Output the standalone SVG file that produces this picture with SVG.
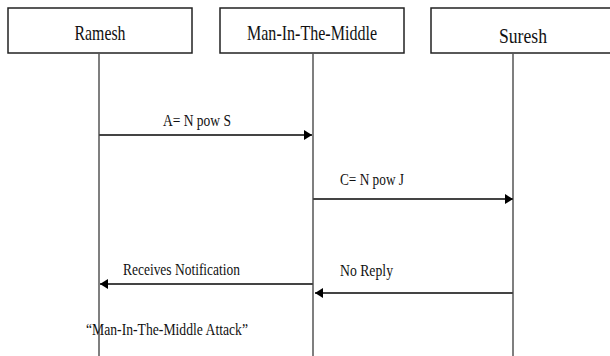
<svg xmlns="http://www.w3.org/2000/svg" width="610" height="356" viewBox="0 0 610 356">
<defs>
<style>
.box{fill:#fff;stroke:#222;stroke-width:1.5}
.txt{fill:#111}
.life{stroke:#555;stroke-width:1.5;fill:none}
.msg{stroke:#444;stroke-width:2;fill:none;marker-end:url(#ah)}
</style>
<marker id="ah" markerWidth="10" markerHeight="12" refX="9" refY="6" orient="auto" markerUnits="userSpaceOnUse">
<path d="M1,1 L9,6 L1,11 Z" fill="#000"/>
</marker>
</defs>
<rect width="610" height="356" fill="#fff"/>
<g font-family="'Liberation Serif', 'Times New Roman', serif">
<g id="ramesh">
<rect class="box" x="8" y="8" width="184" height="45"/>
<text class="txt" x="100" y="40" font-size="21" text-anchor="middle" textLength="51" lengthAdjust="spacingAndGlyphs">Ramesh</text>
</g>
<g id="mitm">
<rect class="box" x="220" y="8" width="184" height="45"/>
<text class="txt" x="312" y="40" font-size="21" text-anchor="middle" textLength="130" lengthAdjust="spacingAndGlyphs">Man-In-The-Middle</text>
</g>
<g id="suresh">
<rect class="box" x="431" y="8" width="184" height="45"/>
<text class="txt" x="523" y="43" font-size="21" text-anchor="middle" textLength="48" lengthAdjust="spacingAndGlyphs">Suresh</text>
</g>
<g id="connectors">
<line class="life" x1="99" y1="53" x2="99" y2="356"/>
<line class="life" x1="313" y1="53" x2="313" y2="356"/>
<line class="life" x1="513" y1="53" x2="513" y2="356"/>
<line class="msg" x1="99" y1="135" x2="312" y2="135"/>
<line class="msg" x1="313" y1="199" x2="513" y2="199"/>
<line class="msg" x1="313" y1="284" x2="100" y2="284"/>
<line class="msg" x1="513" y1="293" x2="315" y2="293"/>
</g>
<g id="labels">
<text class="txt" x="163" y="126" font-size="16.5" textLength="68" lengthAdjust="spacingAndGlyphs">A= N pow S</text>
<text class="txt" x="340" y="185" font-size="16.5" textLength="64" lengthAdjust="spacingAndGlyphs">C= N pow J</text>
<text class="txt" x="123" y="275" font-size="16.5" textLength="117" lengthAdjust="spacingAndGlyphs">Receives Notification</text>
<text class="txt" x="340" y="276" font-size="16.5" textLength="53" lengthAdjust="spacingAndGlyphs">No Reply</text>
<text class="txt" x="86" y="335" font-size="16.5" textLength="162" lengthAdjust="spacingAndGlyphs">“Man-In-The-Middle Attack”</text>
</g>
</g>
</svg>
